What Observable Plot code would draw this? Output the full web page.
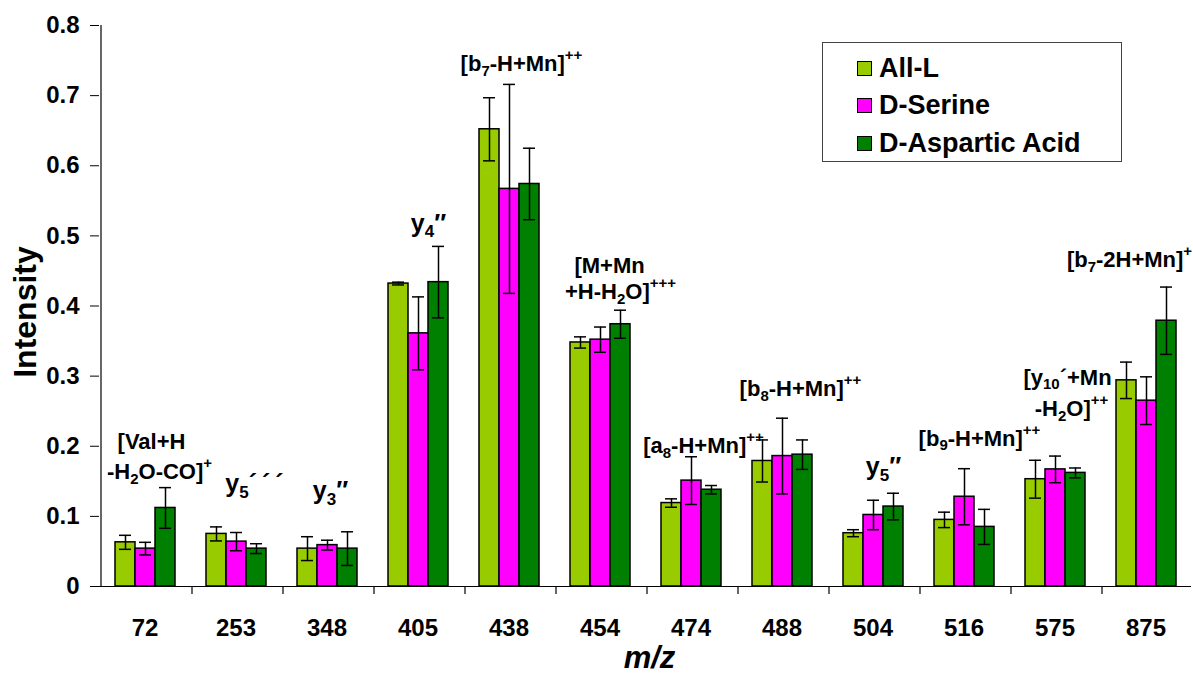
<!DOCTYPE html>
<html>
<head>
<meta charset="utf-8">
<script src="https://cdn.jsdelivr.net/npm/d3@7"></script>
<script src="https://cdn.jsdelivr.net/npm/@observablehq/plot@0.6"></script>
<style>
  body { margin: 0; background: #fff; }
  #wrap { position: relative; width: 1193px; height: 677px; overflow: hidden; font-family: "Liberation Sans", Arial, sans-serif; }
  #legend { position: absolute; left: 822px; top: 42px; width: 300px; height: 120px; box-sizing: border-box; border: 1px solid #444; background: #fff; }
  #legend .row { position: absolute; left: 34px; height: 30px; display: flex; align-items: center; font-weight: bold; font-size: 27px; color: #000; white-space: nowrap; }
  #legend .sw { width: 13px; height: 13px; border: 1.5px solid #000; margin-right: 7px; flex: none; }
</style>
</head>
<body>
<div id="wrap"></div>
<script>
// ---- data ----
const mzLabels = ["72", "253", "348", "405", "438", "454", "474", "488", "504", "516", "575", "875"];
const seriesNames = ["All-L", "D-Serine", "D-Aspartic Acid"];
const seriesColors = ["#99cc00", "#ff00ff", "#008000"];

const allL      = [0.063, 0.075, 0.054, 0.432, 0.652, 0.348, 0.119, 0.179, 0.076, 0.095, 0.153, 0.294];
const allLErr   = [0.010, 0.010, 0.017, 0.002, 0.045, 0.008, 0.006, 0.030, 0.005, 0.011, 0.027, 0.026];
const dSerine   = [0.054, 0.064, 0.059, 0.361, 0.567, 0.352, 0.151, 0.186, 0.102, 0.128, 0.167, 0.265];
const dSerineErr= [0.009, 0.013, 0.007, 0.052, 0.149, 0.018, 0.034, 0.054, 0.021, 0.040, 0.019, 0.034];
const dAsp      = [0.112, 0.054, 0.054, 0.434, 0.574, 0.374, 0.138, 0.188, 0.114, 0.085, 0.162, 0.379];
const dAspErr   = [0.029, 0.007, 0.024, 0.051, 0.051, 0.020, 0.006, 0.021, 0.019, 0.025, 0.007, 0.048];

const yTicks = [0, 0.1, 0.2, 0.3, 0.4, 0.5, 0.6, 0.7, 0.8];

// peak annotations (markup: _{sub}, ^{sup})
const annotationMz   = ["72", "72", "253", "348", "405", "438", "454", "454", "474", "488", "504", "516", "575", "575", "875"];
const annotationText = ["[Val+H", "-H_{2}O-CO]^{+}", "y_{5}´\u2009´\u2009´", "y_{3}″", "y_{4}″", "[b_{7}-H+Mn]^{++}", "[M+Mn", "+H-H_{2}O]^{+++}",
                        "[a_{8}-H+Mn]^{++}", "[b_{8}-H+Mn]^{++}", "y_{5}″", "[b_{9}-H+Mn]^{++}", "[y_{10}´+Mn", "-H_{2}O]^{++}", "[b_{7}-2H+Mn]^{+}"];
const annotationY    = [0.206, 0.163, 0.146, 0.136, 0.517, 0.745, 0.457, 0.420, 0.200, 0.281, 0.170, 0.211, 0.298, 0.253, 0.465];
// horizontal nudge of each label from its group centre (px)
const annotationDx   = [6, 14, 18, 3, 10, 12, 9, 20, 12, 18, 10, 15, 12, 16, -17];

// ---- tables ----
const valueSets = [[allL, allLErr], [dSerine, dSerineErr], [dAsp, dAspErr]];
const rows = [];
mzLabels.forEach((mz, i) => {
  seriesNames.forEach((s, k) => {
    rows.push({mz, series: s, value: valueSets[k][0][i], err: valueSets[k][1][i]});
  });
});
const notes = annotationText.map((t, i) => ({mz: annotationMz[i], text: t, y: annotationY[i], dx: annotationDx[i]}));

const FONT = "Liberation Sans, Arial, sans-serif";

const noteMarks = notes.map(n => Plot.text([n], {
  fx: "mz", x: () => seriesNames[1], y: "y", text: "text", dx: n.dx, fill: "#000",
  fontSize: n.text.startsWith("y") ? 25 : 22, fontWeight: "bold"
}));

const plot = Plot.plot({
  width: 1193,
  height: 677,
  marginLeft: 99,
  marginRight: 2,
  marginTop: 25,
  marginBottom: 91,
  style: {fontFamily: FONT, fontWeight: "bold", fontSize: "24px", color: "#000", background: "#fff", overflow: "visible"},
  fx: {domain: mzLabels, padding: 0},
  x: {domain: seriesNames, paddingInner: 0, paddingOuter: 0.667, axis: null},
  y: {domain: [0, 0.8]},
  color: {domain: seriesNames, range: seriesColors},
  marks: [
    Plot.axisY({ticks: yTicks, tickSize: 9, tickPadding: 11, label: null, tickFormat: d => d === 0 ? "0" : d.toFixed(1), stroke: "#000"}),
    Plot.axisFx({anchor: "bottom", tickSize: 0, tickPadding: 32, label: null}),
    Plot.ruleY([0], {stroke: "#000", strokeWidth: 1.2}),
    // y axis line (left edge of first group)
    Plot.ruleX([mzLabels[0]], {fx: d => d, x: () => seriesNames[0], dx: -24.5, y1: 0, y2: 0.8, stroke: "#000", strokeWidth: 1.2}),
    // group separator ticks below the axis
    Plot.ruleX(mzLabels.slice(1), {fx: d => d, x: () => seriesNames[0], dx: -24.5, y1: 0, y2: -0.0115, stroke: "#000", strokeWidth: 1.2}),
    Plot.barY(rows, {fx: "mz", x: "series", y: "value", fill: "series", stroke: "#000", strokeWidth: 1.5}),
    Plot.ruleX(rows, {fx: "mz", x: "series", y1: d => d.value - d.err, y2: d => d.value + d.err, stroke: "#000", strokeWidth: 1.5}),
    Plot.tickY(rows, {fx: "mz", x: "series", y: d => d.value + d.err, insetLeft: 4, insetRight: 4, stroke: "#000", strokeWidth: 1.5}),
    Plot.tickY(rows, {fx: "mz", x: "series", y: d => d.value - d.err, insetLeft: 4, insetRight: 4, stroke: "#000", strokeWidth: 1.5}),
    ...noteMarks,
    Plot.text(["Intensity"], {fx: () => mzLabels[0], frameAnchor: "left", textAnchor: "middle", rotate: -90, dx: -74, dy: 6, fontSize: 32, fontWeight: "bold"}),
    Plot.text(["m/z"], {fx: () => mzLabels[6], frameAnchor: "bottom-left", textAnchor: "middle", dx: 4, dy: 81, fontSize: 31, fontWeight: "bold", fontStyle: "italic"})
  ]
});

// rich text (sub/superscripts) for the peak labels
function richify(el) {
  const src = el.textContent;
  if (!/[_^]\{/.test(src)) return;
  const holder = el.closest("[font-size]");
  const size = parseFloat(holder ? holder.getAttribute("font-size") : 22);
  const segs = [];
  const re = /([_^])\{([^}]*)\}/g;
  let last = 0, m;
  while ((m = re.exec(src))) {
    if (m.index > last) segs.push({t: src.slice(last, m.index), k: 0});
    segs.push({t: m[2], k: m[1] === "_" ? 1 : -1});
    last = re.lastIndex;
  }
  if (last < src.length) segs.push({t: src.slice(last), k: 0});
  el.textContent = "";
  let cur = 0;
  for (const s of segs) {
    const target = s.k === 1 ? 0.22 * size : s.k === -1 ? -0.5 * size : 0;
    const ts = document.createElementNS("http://www.w3.org/2000/svg", "tspan");
    ts.setAttribute("dy", (target - cur).toFixed(2));
    if (s.k) ts.setAttribute("font-size", (0.68 * size).toFixed(1));
    ts.textContent = s.t;
    el.appendChild(ts);
    cur = target;
  }
}
plot.querySelectorAll("text").forEach(richify);

const wrap = document.getElementById("wrap");
wrap.appendChild(plot);

// legend
const legend = document.createElement("div");
legend.id = "legend";
seriesNames.forEach((s, k) => {
  const row = document.createElement("div");
  row.className = "row";
  row.style.top = (10 + 37.5 * k) + "px";
  const sw = document.createElement("span");
  sw.className = "sw";
  sw.style.background = seriesColors[k];
  row.appendChild(sw);
  row.appendChild(document.createTextNode(s));
  legend.appendChild(row);
});
wrap.appendChild(legend);
</script>
</body>
</html>
